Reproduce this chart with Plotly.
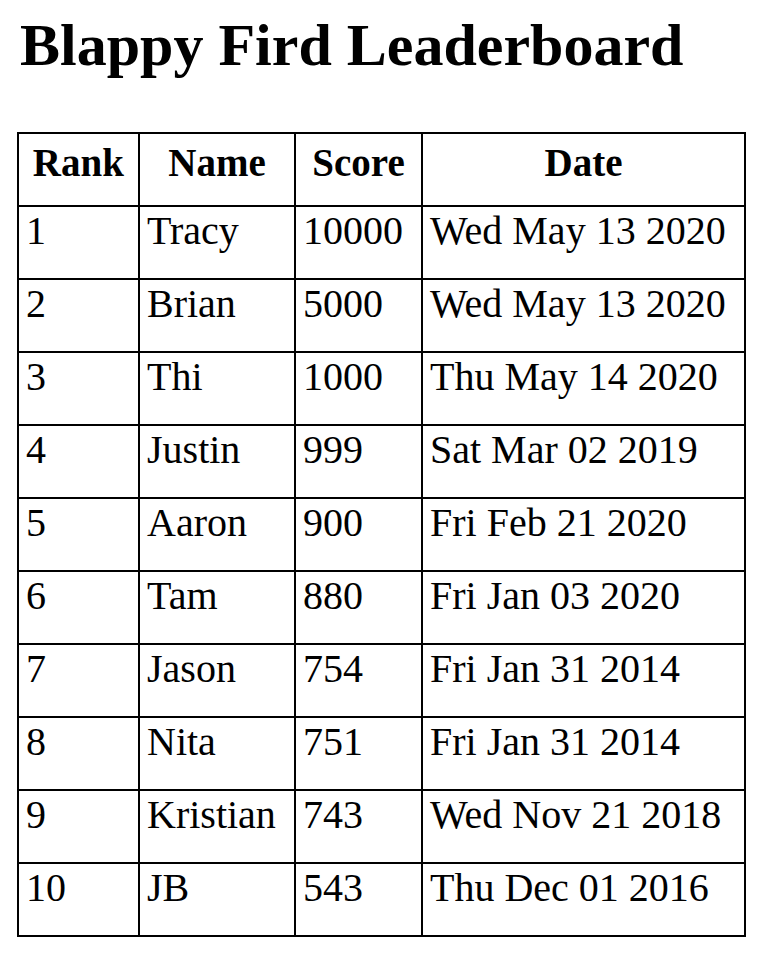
import plotly.graph_objects as go

HEADERS = ["Rank", "Name", "Score", "Date"]
RANKS = [1, 2, 3, 4, 5, 6, 7, 8, 9, 10]
NAMES = ["Tracy", "Brian", "Thi", "Justin", "Aaron", "Tam", "Jason", "Nita", "Kristian", "JB"]
SCORES = [10000, 5000, 1000, 999, 900, 880, 754, 751, 743, 543]
DATES = [
    "Wed May 13 2020", "Wed May 13 2020", "Thu May 14 2020", "Sat Mar 02 2019",
    "Fri Feb 21 2020", "Fri Jan 03 2020", "Fri Jan 31 2014", "Fri Jan 31 2014",
    "Wed Nov 21 2018", "Thu Dec 01 2016",
]

W, H = 767, 962
OFF = 8  # page body margin
SERIF = "Liberation Serif, Times New Roman, serif"

fig = go.Figure(go.Table(
    domain=dict(x=[(18 - OFF) / W, (745 - OFF) / W],
                y=[1 - (940 - OFF) / H, 1 - (133 - OFF) / H]),
    columnwidth=[121, 156, 127, 323],
    header=dict(
        values=[f"<b>{h}</b>" for h in HEADERS],
        align="center",
        height=73,
        font=dict(family=SERIF, size=39, color="black"),
        fill_color="white",
        line=dict(color="black", width=2),
    ),
    cells=dict(
        values=[RANKS, NAMES, SCORES, DATES],
        align="left",
        height=73,
        font=dict(family=SERIF, size=40, color="black"),
        fill_color="white",
        line=dict(color="black", width=2),
    ),
))

fig.add_annotation(
    text="<b>Blappy Fird Leaderboard</b>",
    xref="paper", yref="paper", x=(18 - OFF) / W, y=1 - 2 / H,
    xanchor="left", yanchor="top", showarrow=False,
    font=dict(family=SERIF, size=60, color="black"),
)

fig.update_layout(
    width=W, height=H, margin=dict(l=0, r=0, t=0, b=0),
    paper_bgcolor="white", plot_bgcolor="white",
)

fig.write_html("out.html")
